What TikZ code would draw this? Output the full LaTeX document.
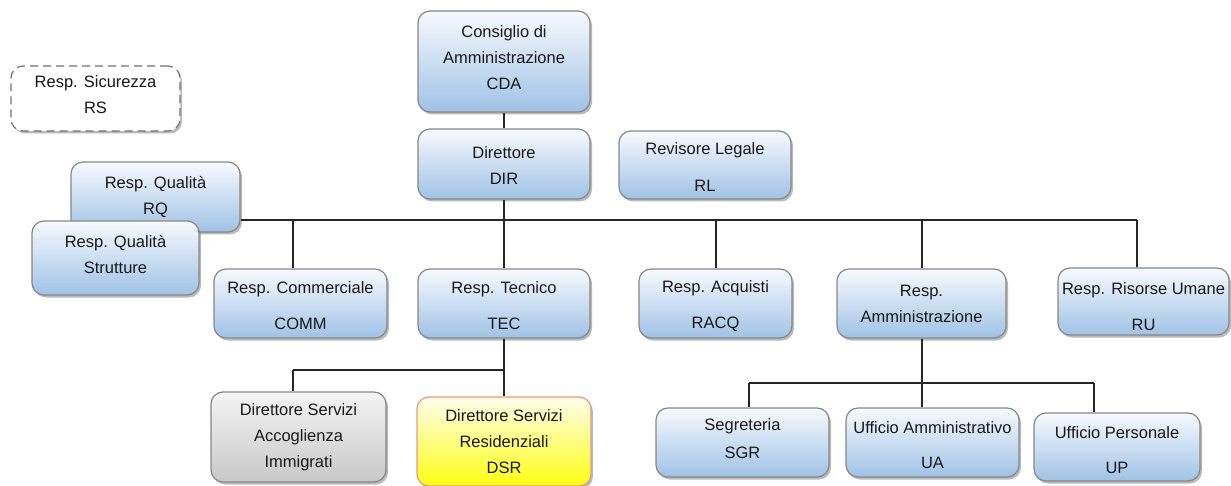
\documentclass[tikz,border=0pt]{standalone}
\usepackage{fontspec}
\setmainfont{Liberation Sans}
\usetikzlibrary{shadows}
\definecolor{bluetop}{RGB}{247,250,254}
\definecolor{bluebot}{RGB}{160,194,230}
\definecolor{graytop}{RGB}{244,244,244}
\definecolor{graybot}{RGB}{200,200,200}
\definecolor{yeltop}{RGB}{255,253,235}
\definecolor{yelbot}{RGB}{255,255,20}
\definecolor{yelborder}{RGB}{240,150,120}
\definecolor{boxborder}{RGB}{135,135,135}
\definecolor{txt}{RGB}{25,25,25}
\begin{document}
\begin{tikzpicture}[x=1pt,y=-1pt,
  box/.style={draw=boxborder, line width=1.2pt, rounded corners=12pt,
    top color=bluetop, bottom color=bluebot, align=center, inner sep=0pt,
    font=\fontsize{16.5}{26}\selectfont, text=txt,
    drop shadow={shadow xshift=2pt, shadow yshift=-2.5pt, opacity=0.45, fill=black!60}},
  graybox/.style={box, top color=graytop, bottom color=graybot},
  yelbox/.style={box, draw=yelborder, top color=yeltop, bottom color=yelbot},
  dashbox/.style={box, draw=black!55, dash pattern=on 8pt off 5pt, fill=white, top color=white, bottom color=white},
  conn/.style={line width=1.3pt, draw=black!85}]
\useasboundingbox (0,0) rectangle (1231,486);

\node[dashbox, minimum width=169pt, minimum height=65pt] (RS) at (95.5,98.5) {Resp. Sicurezza\\RS\\[-18pt]};
\node[box, minimum width=172pt, minimum height=101pt] (CDA) at (504,61.5) {Consiglio di\\Amministrazione\\CDA\\[-18pt]};
\node[box, minimum width=172pt, minimum height=70pt] (DIR) at (504,164) {\rule{0pt}{16pt}Direttore\\DIR};
\node[box, minimum width=172pt, minimum height=68pt] (RL) at (705,165) {\rule{0pt}{17pt}Revisore Legale\\[11pt]RL};
\node[box, minimum width=169pt, minimum height=70pt] (RQ) at (155.5,197) {Resp. Qualità\\RQ};
\node[box, minimum width=167pt, minimum height=74pt] (RQS) at (115.5,258) {Resp. Qualità\\Strutture\\[-18pt]};
\node[box, minimum width=173pt, minimum height=69pt] (COMM) at (300.5,303.5) {\rule{0pt}{17pt}Resp. Commerciale\\[10pt]COMM};
\node[box, minimum width=172pt, minimum height=69pt] (TEC) at (504,303.5) {\rule{0pt}{17pt}Resp. Tecnico\\[10pt]TEC};
\node[box, minimum width=153pt, minimum height=69pt] (RACQ) at (715.5,303.5) {\rule{0pt}{17pt}Resp. Acquisti\\[10pt]RACQ};
\node[box, minimum width=169pt, minimum height=69pt] (RAMM) at (921.5,303.5) {Resp.\\Amministrazione};
\node[box, minimum width=171pt, minimum height=67pt] (RU) at (1143.5,301.5) {\rule{0pt}{22pt}Resp. Risorse Umane\\[10pt]RU};
\node[graybox, minimum width=175pt, minimum height=90pt] (DSAI) at (298.5,437) {Direttore Servizi\\Accoglienza\\Immigrati};
\node[yelbox, minimum width=174pt, minimum height=89pt] (DSR) at (504,441.5) {Direttore Servizi\\Residenziali\\DSR};
\node[box, minimum width=173pt, minimum height=69pt] (SGR) at (742.5,442.5) {Segreteria\\[2pt]SGR\\[-18pt]};
\node[box, minimum width=173pt, minimum height=69pt] (UA) at (932.5,442.5) {\rule{0pt}{18pt}Ufficio Amministrativo\\[9pt]UA};
\node[box, minimum width=166pt, minimum height=68pt] (UP) at (1117,447) {\rule{0pt}{18pt}Ufficio Personale\\[9pt]UP};

% connectors
\coordinate (bus) at (504,220);
\coordinate (dC) at (293,220);
\coordinate (dA) at (716,220);
\coordinate (dM) at (922,220);
\coordinate (dU) at (1137,220);
\draw[conn] (CDA.south) -- (DIR.north);
\draw[conn] (DIR.south) -- (TEC.north);
\draw[conn] (RQ.east |- bus) -- (dU);
\draw[conn] (dC) -- (dC |- COMM.north);
\draw[conn] (dA) -- (dA |- RACQ.north);
\draw[conn] (dM) -- (dM |- RAMM.north);
\draw[conn] (dU) -- (dU |- RU.north);

\coordinate (tb) at (504,370);
\coordinate (tl) at (293,370);
\draw[conn] (TEC.south) -- (DSR.north);
\draw[conn] (tl) -- (tb);
\draw[conn] (tl) -- (tl |- DSAI.north);

\coordinate (ab) at (922,383);
\coordinate (al) at (749,383);
\coordinate (ar) at (1094,383);
\draw[conn] (RAMM.south -| ab) -- (ab |- UA.north);
\draw[conn] (al) -- (ar);
\draw[conn] (al) -- (al |- SGR.north);
\draw[conn] (ar) -- (ar |- UP.north);
\end{tikzpicture}
\end{document}
